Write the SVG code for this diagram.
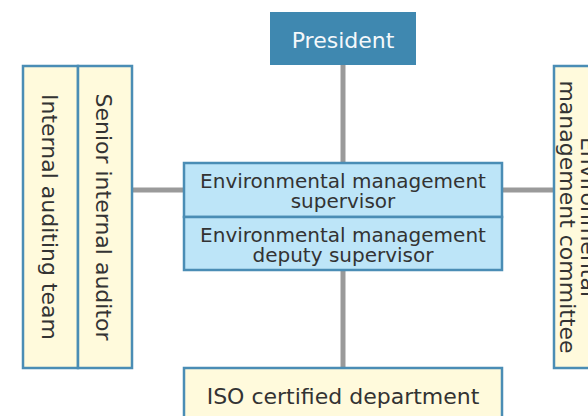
<svg xmlns="http://www.w3.org/2000/svg" width="588" height="416" viewBox="0 0 588 416">
  <style>
    .link { stroke: #9a9a9a; stroke-width: 5; fill: none; }
    .box { stroke: #4a8db5; stroke-width: 2.5; }
    .yellow { fill: #fffadc; }
    .blue { fill: #bde5f8; }
    .top { fill: #3f88b0; }
    text { font-family: "DejaVu Sans", Verdana, sans-serif; fill: #333; text-anchor: middle; }
    .t20 { font-size: 20px; }
    .t22 { font-size: 22px; }
    .light { fill: #f4f8fb; }
  </style>

  <!-- connectors -->
  <g id="connectors">
    <line class="link" x1="343" y1="64" x2="343" y2="164"/>
    <line class="link" x1="343" y1="270" x2="343" y2="369"/>
    <line class="link" x1="131" y1="190" x2="185" y2="190"/>
    <line class="link" x1="501" y1="190" x2="555" y2="190"/>
  </g>

  <g id="president">
    <rect class="top" x="270" y="12" width="146" height="53"/>
    <text class="t22 light" x="343" y="48">President</text>
  </g>

  <g id="supervisor">
    <rect class="box blue" x="184" y="163" width="318" height="54"/>
    <text class="t20" x="343" y="188">Environmental management</text>
    <text class="t20" x="343" y="208">supervisor</text>
  </g>

  <g id="deputy-supervisor">
    <rect class="box blue" x="184" y="217" width="318" height="53"/>
    <text class="t20" x="343" y="242">Environmental management</text>
    <text class="t20" x="343" y="262">deputy supervisor</text>
  </g>

  <g id="iso-department">
    <rect class="box yellow" x="184" y="368" width="318" height="60"/>
    <text class="t22" x="343" y="404">ISO certified department</text>
  </g>

  <g id="internal-auditing-team">
    <rect class="box yellow" x="23" y="66" width="55" height="302"/>
    <text class="t22" transform="translate(42 217) rotate(90)">Internal auditing team</text>
  </g>

  <g id="senior-internal-auditor">
    <rect class="box yellow" x="78" y="66" width="54" height="302"/>
    <text class="t22" transform="translate(96 217) rotate(90)">Senior internal auditor</text>
  </g>

  <g id="management-committee">
    <rect class="box yellow" x="554" y="66" width="60" height="302"/>
    <text class="t22" transform="translate(581 217) rotate(90)">Environmental</text>
    <text class="t22" transform="translate(560 217) rotate(90)">management committee</text>
  </g>
</svg>
